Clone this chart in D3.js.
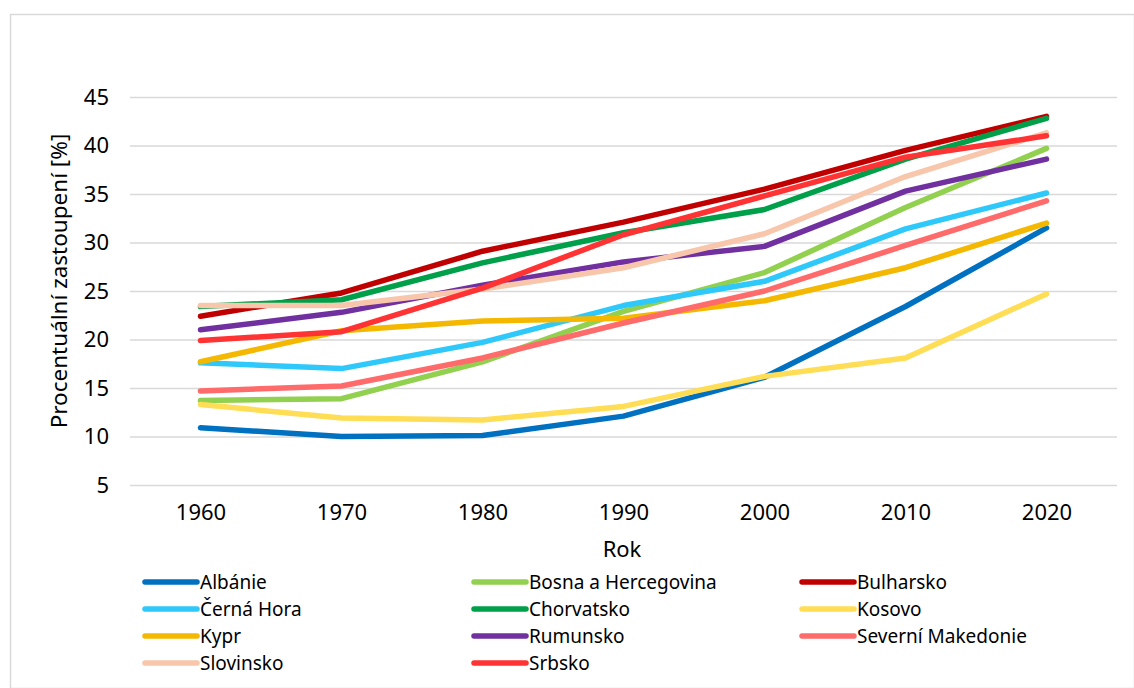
<!DOCTYPE html>
<html><head><meta charset="utf-8">
<script src="https://cdn.jsdelivr.net/npm/d3@7"></script>
<style>body{margin:0;background:#fff}svg text{font-family:"Noto Sans",sans-serif;fill:#000}</style>
</head><body><svg id="c" width="1134" height="688"></svg>
<script>
const years = ["1960","1970","1980","1990","2000","2010","2020"];
const yTicks = [5,10,15,20,25,30,35,40,45];
const names = ["Albánie","Bosna a Hercegovina","Bulharsko","Černá Hora","Chorvatsko","Kosovo","Kypr","Rumunsko","Severní Makedonie","Slovinsko","Srbsko"];
const colors = ["#0070C0","#92D050","#C00000","#2FC8FA","#00A04A","#FFDD55","#F5B800","#7030A0","#FF6B6B","#F8C6AB","#FF3333"];
const albanie   = [10.9,10.0,10.1,12.1,16.1,23.4,31.5];
const bosna     = [13.7,13.9,17.7,22.9,26.9,33.6,39.7];
const bulharsko = [22.4,24.8,29.1,32.1,35.5,39.5,43.0];
const cernaHora = [17.6,17.0,19.7,23.5,26.0,31.4,35.1];
const chorvatsko= [23.4,24.1,27.9,31.0,33.4,38.6,42.8];
const kosovo    = [13.3,11.9,11.7,13.1,16.2,18.1,24.7];
const kypr      = [17.7,20.9,21.9,22.2,24.0,27.4,32.0];
const rumunsko  = [21.0,22.8,25.6,28.0,29.6,35.3,38.6];
const sevMak    = [14.7,15.2,18.1,21.7,25.0,29.7,34.3];
const slovinsko = [23.5,23.5,25.2,27.4,30.9,36.8,41.3];
const srbsko    = [19.9,20.8,25.3,30.8,34.8,38.8,41.0];
const series = [albanie,bosna,bulharsko,cernaHora,chorvatsko,kosovo,kypr,rumunsko,sevMak,slovinsko,srbsko];

const svg = d3.select("#c");
svg.append("rect").attr("x",10.5).attr("y",14.5).attr("width",1124).attr("height",674)
  .attr("fill","#fff").attr("stroke","#d9d9d9").attr("stroke-width",1.5);

const x = d3.scalePoint().domain(years).range([130,1117]).padding(0.5);
const y = d3.scaleLinear().domain([5,45]).range([485,97]);

const gy = svg.append("g").attr("transform","translate(130,0)")
  .call(d3.axisLeft(y).tickValues(yTicks).tickSize(-987).tickPadding(21));
gy.select(".domain").remove();
gy.selectAll(".tick line").attr("stroke","#d9d9d9").attr("stroke-width",1.5);
gy.selectAll(".tick text").attr("font-size",22).style("font-family","Noto Sans");

const gx = svg.append("g").attr("transform","translate(0,485)")
  .call(d3.axisBottom(x).tickSize(0).tickPadding(19));
gx.select(".domain").remove();
gx.selectAll(".tick text").attr("font-size",22).style("font-family","Noto Sans");

svg.append("text").attr("x",622).attr("y",557).attr("text-anchor","middle").attr("font-size",22).text("Rok");
svg.append("text").attr("transform","translate(67,281) rotate(-90)").attr("text-anchor","middle").attr("font-size",22.5).text("Procentuální zastoupení [%]");

const line = d3.line().x((d,i)=>x(years[i])).y(d=>y(d));
series.forEach((s,k)=>{
  svg.append("path").datum(s).attr("d",line).attr("fill","none")
    .attr("stroke",colors[k]).attr("stroke-width",5.5).attr("stroke-linecap","round").attr("stroke-linejoin","round");
});

const colX = [143,472,800];
const rowY = [582,609,636,663];
names.forEach((n,k)=>{
  const cx = colX[k%3], cy = rowY[Math.floor(k/3)];
  svg.append("line").attr("x1",cx+2).attr("x2",cx+54).attr("y1",cy).attr("y2",cy)
    .attr("stroke",colors[k]).attr("stroke-width",5.5).attr("stroke-linecap","round");
  svg.append("text").attr("x",cx+57).attr("y",cy).attr("dy","0.35em").attr("font-size",19).text(n);
});
</script></body></html>
